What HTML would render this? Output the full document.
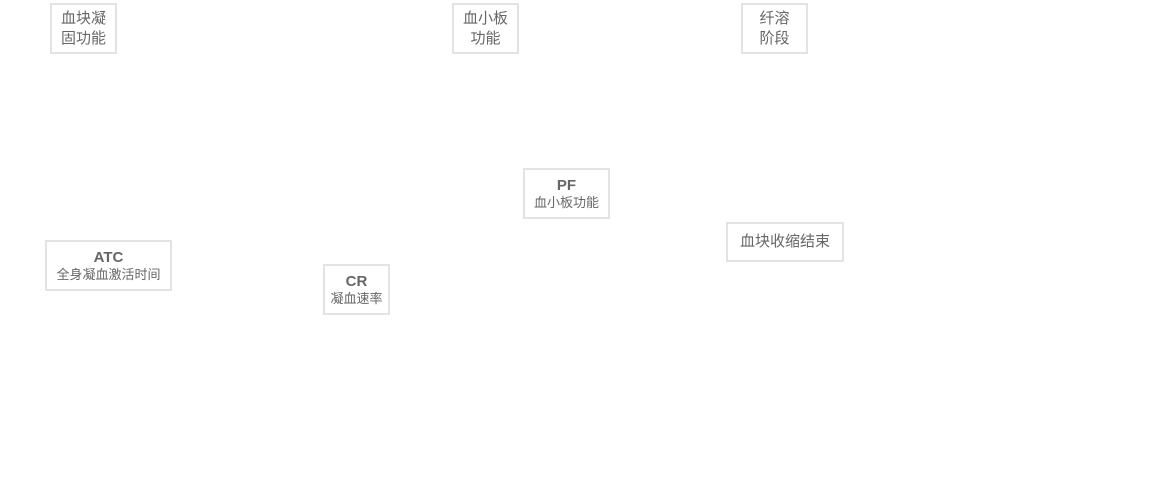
<!DOCTYPE html>
<html><head><meta charset="utf-8"><style>
body{margin:0;width:1159px;height:481px;background:#fff;position:relative;overflow:hidden;font-family:"Liberation Sans","Noto Sans CJK SC",sans-serif;color:#666}
.b{position:absolute;box-sizing:border-box;border:2px solid #e3e3e3;display:flex;flex-direction:column;align-items:center;justify-content:center;text-align:center}
.t{font-size:15px;line-height:20px}
.h{font-size:15px;font-weight:bold;line-height:17px;color:#666}
.s{font-size:13px;line-height:17px;color:#666}
</style></head><body>
<div class="b t" style="left:50px;top:3px;width:67px;height:51px">血块凝<br>固功能</div>
<div class="b t" style="left:452px;top:3px;width:67px;height:51px">血小板<br>功能</div>
<div class="b t" style="left:741px;top:3px;width:67px;height:51px">纤溶<br>阶段</div>
<div class="b" style="left:523px;top:168px;width:87px;height:51px"><div class="h">PF</div><div class="s">血小板功能</div></div>
<div class="b t" style="left:726px;top:222px;width:118px;height:40px">血块收缩结束</div>
<div class="b" style="left:45px;top:240px;width:127px;height:51px"><div class="h">ATC</div><div class="s">全身凝血激活时间</div></div>
<div class="b" style="left:323px;top:264px;width:67px;height:51px"><div class="h">CR</div><div class="s">凝血速率</div></div>
</body></html>
